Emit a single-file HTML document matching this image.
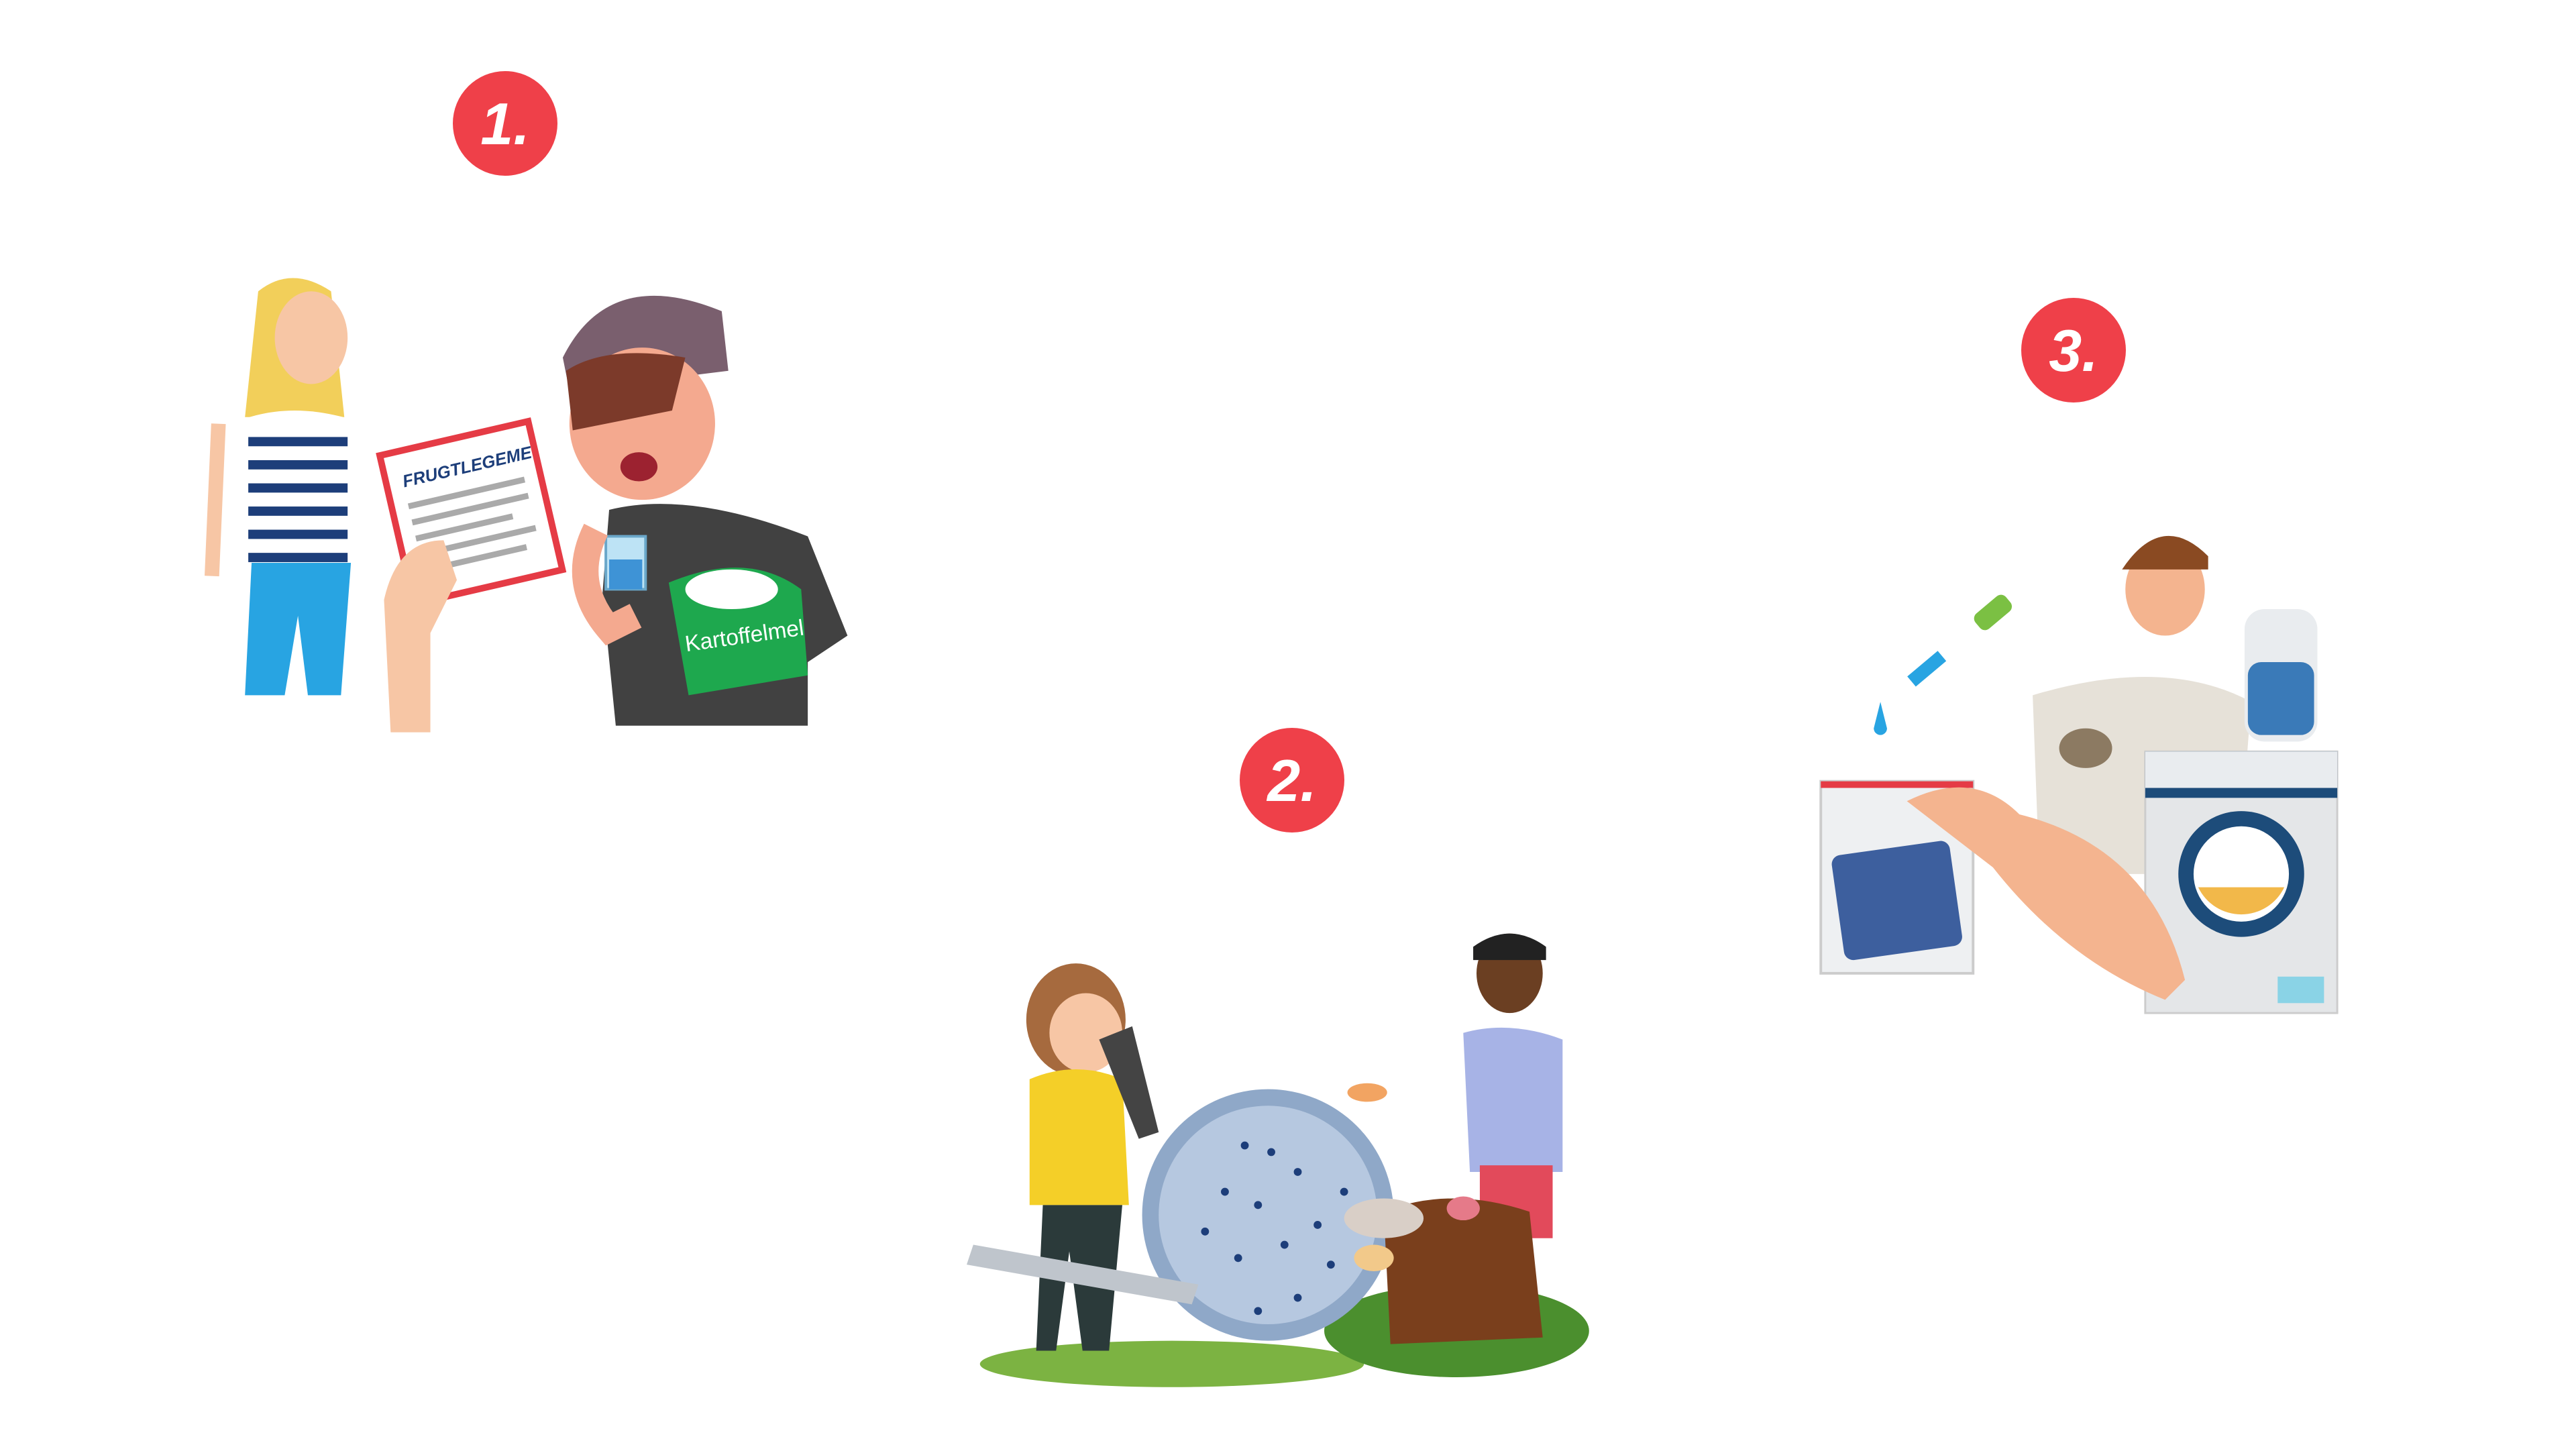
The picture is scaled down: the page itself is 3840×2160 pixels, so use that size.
<!DOCTYPE html>
<html><head><meta charset="utf-8"><style>
html,body{margin:0;padding:0;background:#fff;width:3840px;height:2160px;overflow:hidden}
svg{display:block}
</style></head><body>
<svg width="3840" height="2160" viewBox="0 0 3840 2160" xmlns="http://www.w3.org/2000/svg" font-family="Liberation Sans, sans-serif">
<!-- number badges -->
<g font-weight="bold" font-style="italic" font-size="88" fill="#fff" text-anchor="middle">
<circle cx="753" cy="184" r="78" fill="#ef4049"/><text x="753" y="215">1.</text>
<circle cx="1926" cy="1163" r="78" fill="#ef4049"/><text x="1926" y="1194">2.</text>
<circle cx="3091" cy="522" r="78" fill="#ef4049"/><text x="3091" y="553">3.</text>
</g>

<g transform="scale(0.987)">
<!-- Scene 1 -->
<g>
 <path d="M390 440 q50 -40 110 0 l20 190 -150 0 z" fill="#f2cf5a"/>
 <ellipse cx="470" cy="510" rx="55" ry="70" fill="#f7c6a5"/>
 <path d="M350 640 q90 -40 200 0 l0 210 -200 0 z" fill="#fff"/>
 <g fill="#1d3e7a"><rect x="375" y="660" width="150" height="14"/><rect x="375" y="695" width="150" height="14"/><rect x="375" y="730" width="150" height="14"/><rect x="375" y="765" width="150" height="14"/><rect x="375" y="800" width="150" height="14"/><rect x="375" y="835" width="150" height="14"/></g>
 <path d="M380 850 l150 0 -15 200 -50 0 -15 -120 -20 120 -60 0 z" fill="#28a4e2"/>
 <path d="M330 640 l-10 230" stroke="#f7c6a5" stroke-width="22"/>
 <g transform="rotate(-13 710 790)">
 <rect x="600" y="660" width="230" height="230" fill="#fff" stroke="#e53b45" stroke-width="10"/>
 <text x="625" y="715" font-size="26" font-weight="bold" font-style="italic" fill="#1d3e7a">FRUGTLEGEME</text>
 <g fill="#aaa"><rect x="625" y="740" width="180" height="9"/><rect x="625" y="765" width="180" height="9"/><rect x="625" y="790" width="150" height="9"/><rect x="625" y="815" width="180" height="9"/><rect x="625" y="840" width="160" height="9"/></g>
 </g>
 <path d="M590 1106 l-10 -200 q20 -90 90 -90 l20 60 -40 80 0 150 z" fill="#f7c6a5"/>
 <path d="M850 540 q70 -140 240 -70 l10 90 -240 30 z" fill="#7a5f6e"/>
 <ellipse cx="970" cy="640" rx="110" ry="115" fill="#f4a98f"/>
 <path d="M855 560 q60 -40 180 -20 l-20 80 -150 30 z" fill="#7c3a2a"/>
 <ellipse cx="965" cy="705" rx="28" ry="22" fill="#9c2230"/>
 <path d="M920 770 q120 -30 300 40 l60 150 -60 40 0 96 -290 0 -20 -200 z" fill="#414141"/>
 <path d="M1010 880 q120 -50 200 10 l10 130 -180 30 z" fill="#1ea84e"/>
 <ellipse cx="1105" cy="890" rx="70" ry="30" fill="#fff"/>
 <text x="1035" y="975" font-size="34" fill="#fff" transform="rotate(-8 1100 970)">Kartoffelmel</text>
 <rect x="915" y="810" width="60" height="80" fill="#bde3f5" stroke="#6aa7c9" stroke-width="4"/>
 <rect x="920" y="845" width="50" height="45" fill="#3e93d6"/>
 <path d="M900 800 q-40 80 20 150 l40 -20" stroke="#f4a98f" stroke-width="40" fill="none"/>
</g>

<!-- Scene 2 -->
<g>
 <ellipse cx="1770" cy="2060" rx="290" ry="35" fill="#7cb342"/>
 <ellipse cx="2200" cy="2010" rx="200" ry="70" fill="#4b8f2e"/>
 <circle cx="1915" cy="1835" r="190" fill="#8fa8c8"/>
 <circle cx="1915" cy="1835" r="165" fill="#b6c8e0"/>
 <g fill="#1d3e7a">
 <circle cx="1880" cy="1730" r="6"/><circle cx="1920" cy="1740" r="6"/><circle cx="1960" cy="1770" r="6"/><circle cx="1850" cy="1800" r="6"/><circle cx="1900" cy="1820" r="6"/><circle cx="1990" cy="1850" r="6"/><circle cx="1940" cy="1880" r="6"/><circle cx="1870" cy="1900" r="6"/><circle cx="2010" cy="1910" r="6"/><circle cx="1960" cy="1960" r="6"/><circle cx="1900" cy="1980" r="6"/><circle cx="2030" cy="1800" r="6"/><circle cx="1820" cy="1860" r="6"/>
 </g>
 <ellipse cx="1625" cy="1540" rx="75" ry="85" fill="#a66a3e"/>
 <ellipse cx="1640" cy="1560" rx="55" ry="60" fill="#f7c6a5"/>
 <path d="M1555 1630 q70 -30 140 0 l10 190 -150 0 z" fill="#f4cf28"/>
 <path d="M1575 1820 l120 0 -20 220 -40 0 -20 -150 -20 150 -30 0 z" fill="#2b3a3a"/>
 <path d="M1660 1570 l50 -20 40 160 -30 10 z" fill="#444"/>
 <path d="M1470 1880 l340 60 -10 30 -340 -60 z" fill="#bfc5cc"/>
 <ellipse cx="2280" cy="1470" rx="50" ry="60" fill="#6b3f22"/>
 <path d="M2225 1430 q55 -40 110 0 l0 20 -110 0 z" fill="#222"/>
 <path d="M2210 1560 q70 -20 150 10 l0 200 -140 0 z" fill="#a7b3e6"/>
 <path d="M2235 1760 l110 0 0 110 -110 0 z" fill="#e24a5b"/>
 <path d="M2200 1600 l-110 80" stroke="#fff" stroke-width="30"/>
 <path d="M2090 1830 q100 -40 220 0 l20 190 -230 10 z" fill="#7a3f1c"/>
 <ellipse cx="2090" cy="1840" rx="60" ry="30" fill="#d9cfc7"/>
 <ellipse cx="2075" cy="1900" rx="30" ry="20" fill="#f2c98a"/>
 <ellipse cx="2210" cy="1825" rx="25" ry="18" fill="#e57a89"/>
 <ellipse cx="2065" cy="1650" rx="30" ry="14" fill="#f2a462"/>
</g>

<!-- Scene 3 -->
<g>
 <rect x="2750" y="1180" width="230" height="290" fill="#eef0f2" stroke="#ccc" stroke-width="4"/>
 <rect x="2750" y="1180" width="230" height="10" fill="#e53b45"/>
 <rect x="2775" y="1280" width="180" height="160" rx="14" fill="#3d5f9e" transform="rotate(-8 2865 1360)"/>
 <path d="M2830 1100 l10 -40 10 40 a10 10 0 1 1 -20 0z" fill="#28a4e2"/>
 <rect x="2880" y="1000" width="60" height="20" fill="#28a4e2" transform="rotate(-40 2910 1010)"/>
 <rect x="2980" y="910" width="60" height="30" rx="10" fill="#7bc043" transform="rotate(-40 3010 925)"/>
 <ellipse cx="3270" cy="890" rx="60" ry="70" fill="#f4b48f"/>
 <path d="M3205 860 q60 -90 130 -20 l0 20 -130 0 z" fill="#8a4a22"/>
 <path d="M3070 1050 q200 -60 330 10 l-20 260 -300 0 z" fill="#e6e1d8"/>
 <ellipse cx="3150" cy="1130" rx="40" ry="30" fill="#8c7a62"/>
 <rect x="3390" y="920" width="110" height="200" rx="30" fill="#e9ecef"/>
 <rect x="3395" y="1000" width="100" height="110" rx="20" fill="#3a7ab8"/>
 <rect x="3240" y="1135" width="290" height="395" fill="#e4e6e8" stroke="#ccc" stroke-width="3"/>
 <rect x="3240" y="1135" width="290" height="70" fill="#1d4c7a"/>
 <rect x="3240" y="1135" width="290" height="55" fill="#e9ecef"/>
 <circle cx="3385" cy="1320" r="95" fill="#1d4c7a"/>
 <circle cx="3385" cy="1320" r="72" fill="#fff"/>
 <path d="M3320 1340 a72 72 0 0 0 130 0 z" fill="#f2b84a"/>
 <rect x="3440" y="1475" width="70" height="40" fill="#8ad3e6"/>
 <path d="M2880 1210 q100 -50 170 20 q200 50 250 250 l-30 30 q-150 -60 -260 -200 z" fill="#f4b48f"/>
</g>
</g>
</svg>
</body></html>
